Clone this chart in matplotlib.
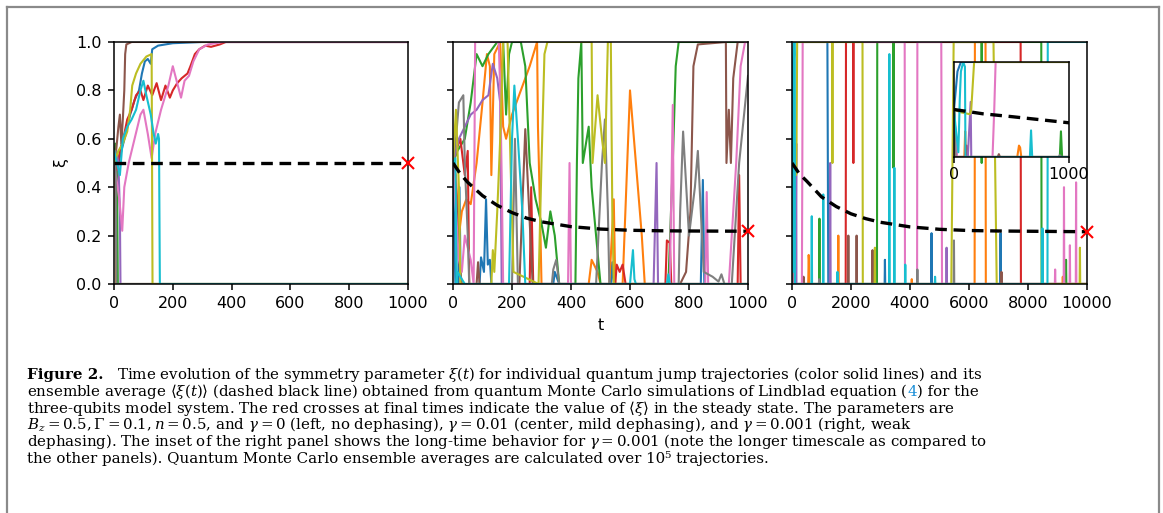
import matplotlib
matplotlib.use("Agg")
import matplotlib.pyplot as plt
from matplotlib.lines import Line2D

plt.rcParams['font.family'] = ['DejaVu Sans']
plt.rcParams['mathtext.fontset'] = 'dejavuserif'

W, H = 1163, 513
DPI = 100

# ---------------- data ----------------
colors = ['#1f77b4', '#ff7f0e', '#2ca02c', '#d62728', '#9467bd',
          '#8c564b', '#e377c2', '#7f7f7f', '#bcbd22', '#17becf']

# left panel (gamma = 0)
L_blue = [(0,0.5),(8,0.45),(15,0.5),(25,0.55),(40,0.62),(55,0.7),(70,0.76),(85,0.8),(95,0.87),(105,0.92),(115,0.93),(125,0.91),(130,0.97),(150,0.985),(200,0.995),(300,1.0),(1000,1.0)]
L_orange = [(0,0.5),(4,0.52),(7,0),(1000,0)]
L_green = [(0,0.5),(5,0.58),(10,0.5),(13,0),(1000,0)]
L_red = [(0,0.5),(10,0.47),(20,0.55),(35,0.62),(45,0.68),(60,0.72),(75,0.78),(90,0.8),(100,0.76),(115,0.82),(130,0.78),(145,0.83),(160,0.76),(175,0.82),(190,0.77),(200,0.8),(215,0.83),(230,0.85),(250,0.87),(260,0.9),(275,0.95),(290,0.97),(310,0.985),(330,0.98),(360,0.99),(380,1.0),(1000,1.0)]
L_purple = [(0,0.5),(8,0.55),(15,0.5),(20,0.3),(22,0),(1000,0)]
L_brown = [(0,0.5),(8,0.56),(15,0.65),(20,0.7),(25,0.58),(30,0.68),(35,0.8),(38,0.95),(42,0.99),(60,1.0),(1000,1.0)]
L_pink = [(0,0.5),(10,0.42),(18,0.35),(28,0.22),(35,0.4),(50,0.5),(70,0.6),(90,0.7),(100,0.72),(115,0.62),(128,0.52),(140,0.62),(160,0.72),(185,0.82),(200,0.9),(215,0.83),(228,0.77),(240,0.84),(255,0.86),(270,0.92),(290,0.97),(320,0.99),(370,1.0),(1000,1.0)]
L_gray = [(0,0.5),(5,0.55),(8,0),(1000,0)]
L_olive = [(0,0.5),(15,0.55),(30,0.58),(45,0.63),(55,0.72),(62,0.82),(75,0.87),(90,0.91),(110,0.94),(128,0.95),(131,0.0),(1000,0)]
L_cyan = [(0,0.55),(10,0.5),(20,0.45),(30,0.6),(45,0.65),(60,0.68),(75,0.72),(90,0.8),(100,0.84),(110,0.78),(125,0.7),(135,0.62),(142,0.58),(150,0.62),(153,0.6),(156,0),(1000,0)]

# center panel (gamma = 0.01)
M_blue = [(0,0.5),(8,0.0),(18,0),(22,0.40),(26,0),(90,0),(95,0.11),(105,0.05),(112,0.35),(118,0.08),(125,0.1),(130,0),(340,0),(345,0.05),(360,0),(535,0),(540,0.09),(545,0),(840,0),(847,0.43),(852,0),(1000,0)]
M_orange = [(0,0.5),(10,0.45),(20,0.2),(30,0.3),(45,0.35),(60,0.33),(80,0.5),(100,0.75),(115,0.95),(125,0.9),(130,0.45),(140,0.95),(160,1.0),(170,0.65),(180,0.6),(200,0.7),(260,0.9),(285,1.0),(288,0.65),(295,0.3),(300,0),(460,0),(470,0.1),(490,0.05),(500,0),(530,0),(545,0.35),(550,0),(575,0),(600,0.8),(640,0.2),(650,0),(1000,0)]
M_green = [(0,0.5),(15,0.55),(40,0.6),(60,0.75),(80,0.95),(100,0.9),(120,0.95),(150,1.0),(170,1.0),(180,0.7),(190,0.95),(200,1.0),(230,1.0),(245,0.9),(260,0.5),(280,0.35),(300,0.25),(315,0.15),(330,0.3),(345,0.2),(360,0),(415,0),(420,0.5),(425,0.85),(435,1.0),(440,0.5),(460,0.65),(470,0.4),(500,0),(730,0),(745,0.5),(755,0.9),(765,1.0),(1000,1.0)]
M_red = [(0,0.5),(10,0.55),(25,0.6),(40,0.45),(50,0.55),(55,0),(260,0),(265,0.4),(272,0),(550,0),(555,0.08),(565,0.05),(575,0.08),(585,0),(720,0),(725,0.18),(735,0.17),(740,0),(965,0),(970,0.45),(975,0),(1000,0)]
M_purple = [(0,0.5),(20,0.6),(40,0.65),(60,0.7),(80,0.72),(100,0.76),(120,0.78),(135,0.91),(150,0.85),(160,0.75),(165,0),(680,0),(690,0.5),(695,0),(1000,0)]
M_brown = [(0,0.5),(10,0.4),(20,0.1),(30,0),(80,0),(85,0.09),(90,0),(225,0),(245,0.64),(270,0),(770,0),(790,0.05),(805,0.3),(815,0.9),(830,0.99),(925,1.0),(927,0.5),(935,0.72),(942,0.5),(950,0.85),(965,1.0),(1000,1.0)]
M_pink = [(0,0.5),(10,0.3),(20,0.1),(30,0.05),(40,0.2),(50,0.15),(60,0.1),(70,0.0),(75,1.0),(155,1.0),(160,0.8),(165,0.45),(170,0),(390,0),(395,0.5),(400,0),(735,0),(745,0.74),(750,0),(855,0),(860,0.38),(865,0),(935,0),(960,0.5),(975,0.9),(990,1.0),(1000,1.0)]
M_gray = [(0,0.5),(10,0.6),(20,0.75),(35,0.78),(40,0.5),(50,0.2),(55,0),(200,0),(210,0.6),(220,0),(335,0),(340,0.06),(350,0.1),(360,0),(485,0),(505,0.5),(515,0.68),(525,0.3),(530,0),(765,0),(770,0.3),(780,0.63),(800,0.2),(820,0.4),(830,0.55),(840,0.3),(850,0.05),(880,0.03),(900,0.01),(910,0.04),(920,0),(945,0),(970,0.5),(1000,0.86)]
M_olive = [(0,0.5),(10,0.72),(20,0.4),(25,0),(130,0),(135,0.14),(140,0.05),(150,0.3),(160,0.6),(170,1.0),(185,1.0),(195,0.5),(205,0.05),(290,0),(300,0.5),(310,0.95),(320,1.0),(470,1.0),(473,0.5),(490,0.78),(505,0.6),(515,0.5),(525,1.0),(535,1.0),(540,0.3),(545,0),(1000,0)]
M_cyan = [(0,0.5),(8,0.52),(12,0),(15,0.05),(20,0.04),(30,0.02),(40,0.0),(190,0),(200,0.6),(208,0.82),(220,0.6),(235,0.3),(245,0),(600,0),(610,0.14),(615,0.02),(620,0),(725,0),(730,0.04),(735,0),(1000,0)]

# right panel (gamma = 0.001)
R_blue = [(0,0.5),(30,0.9),(60,1.0),(1200,1.0),(1215,0.5),(1230,0),(3140,0),(3150,0.1),(3160,0),(4720,0),(4730,0.21),(4740,0),(7060,0),(7070,0.21),(7080,0),(10000,0)]
R_orange = [(0,0.5),(8,0.2),(12,0),(90,0),(97,0.27),(104,0),(550,0),(565,0.12),(575,0.1),(585,0),(1560,0),(1570,0.2),(1580,0),(4050,0),(4060,0.02),(4070,0),(6190,0),(6200,1.0),(6560,1.0),(6570,0),(9170,0),(9180,0.03),(9190,0),(10000,0)]
R_green = [(0,0.5),(10,0.3),(20,0),(920,0),(930,0.27),(940,0),(2880,0),(2890,1.0),(3430,1.0),(3440,0.48),(3450,1.0),(6420,1.0),(6430,0.5),(6440,1.0),(8450,1.0),(8460,0),(9280,0),(9290,0.1),(9300,0),(10000,0)]
R_red = [(0,0.5),(10,0.2),(15,0),(100,0),(110,0.12),(120,0),(1820,0),(1830,1.0),(2070,1.0),(2080,0.5),(2090,1.0),(7750,1.0),(7760,0),(10000,0)]
R_purple = [(0,0.5),(15,0.2),(25,0),(120,0),(145,0.58),(150,0),(1280,0),(1295,0.5),(1310,0),(5230,0),(5240,0.15),(5250,0),(10000,0)]
R_brown = [(0,0.5),(10,0.2),(15,0),(380,0),(390,0.03),(400,0),(1900,0),(1910,0.2),(1920,0),(2180,0),(2190,0.2),(2200,0),(2720,0),(2730,0.14),(2740,0),(7090,0),(7100,0.05),(7110,0),(10000,0)]
R_pink = [(0,0.5),(15,0.2),(25,0),(335,0),(350,0.5),(362,1.0),(3820,1.0),(3830,0),(4240,0),(4250,1.0),(5060,1.0),(5075,0.45),(5085,0),(8910,0),(8920,0.06),(8930,0),(9210,0),(9220,0.4),(9230,0),(9410,0),(9420,0.16),(9430,0),(9620,0),(9630,0.42),(9640,0),(10000,0)]
R_gray = [(0,0.5),(15,0),(910,0),(920,0.02),(930,0),(4240,0),(4250,0.06),(4260,0),(5480,0),(5490,0.18),(5500,0),(10000,0)]
R_olive = [(0,0.5),(60,0.47),(140,0.45),(150,0.5),(175,1.0),(1360,1.0),(1370,0.5),(1380,1.0),(2390,1.0),(2400,0),(2800,0),(2810,0.15),(2820,0),(5400,0),(5480,1.0),(6830,1.0),(6940,0),(9750,0),(9760,0.15),(9770,0),(10000,0)]
R_cyan = [(0,0.5),(15,0.3),(38,0.05),(50,0.6),(60,0.9),(80,1.0),(95,0.95),(100,0),(660,0),(670,0.28),(680,0),(1050,0),(1060,0.37),(1070,0),(1530,0),(1540,0.05),(1550,0),(3290,0),(3300,0.95),(3310,0),(3460,0),(3470,0.48),(3480,0),(3830,0),(3840,0.08),(3850,0),(4840,0),(4850,0.03),(4860,0),(8480,0),(8490,0.23),(8500,0),(8660,0),(8670,1.0),(10000,1.0)]

# ensemble averages
left_avg_t = [0, 1000]
left_avg_xi = [0.5, 0.5]
mid_avg_t = [0, 25, 50, 100, 150, 200, 250, 300, 400, 500, 600, 700, 800, 1000]
mid_avg_xi = [0.5, 0.455, 0.42, 0.365, 0.325, 0.295, 0.272, 0.257, 0.237, 0.227, 0.222, 0.22, 0.219, 0.218]
right_avg_t = [0, 250, 500, 1000, 1500, 2000, 2500, 3000, 4000, 5000, 6000, 7000, 8000, 10000]
right_avg_xi = [0.5, 0.455, 0.425, 0.36, 0.32, 0.29, 0.27, 0.255, 0.236, 0.226, 0.221, 0.219, 0.218, 0.216]

steady_t = [1000, 1000, 10000]
steady_xi = [0.5, 0.218, 0.216]

left_traj = [L_blue, L_orange, L_green, L_red, L_purple, L_brown, L_pink, L_gray, L_olive, L_cyan]
mid_traj = [M_blue, M_orange, M_green, M_red, M_purple, M_brown, M_pink, M_gray, M_olive, M_cyan]
right_traj = [R_blue, R_orange, R_green, R_red, R_purple, R_brown, R_pink, R_gray, R_olive, R_cyan]

# ---------------- figure ----------------
fig = plt.figure(figsize=(W / DPI, H / DPI), dpi=DPI)
TICK_FS = 11.5


def box(x0, y0, x1, y1):
    return [x0 / W, 1 - y1 / H, (x1 - x0) / W, (y1 - y0) / H]


def style(ax, fs=TICK_FS):
    for s in ax.spines.values():
        s.set_linewidth(1.1)
    ax.tick_params(direction='out', length=4.3, width=1.1, labelsize=fs, pad=4.5)


def draw(ax, trajs, avg_t, avg_xi, xmax, k):
    for c, tr in zip(colors, trajs):
        ax.plot([p[0] for p in tr], [p[1] for p in tr], color=c, lw=1.5)
    ax.plot(avg_t, avg_xi, color='black', lw=2.4, ls='--', dashes=(3.5, 2.0))
    ax.plot([steady_t[k]], [steady_xi[k]], marker='x', color='red', ms=8,
            mew=1.5, clip_on=False, zorder=10)
    ax.set_xlim(0, xmax)
    ax.set_ylim(0, 1)


axL = fig.add_axes(box(114, 42, 408, 284))
axM = fig.add_axes(box(453, 42, 748, 284))
axR = fig.add_axes(box(792, 42, 1087, 284))

draw(axL, left_traj, left_avg_t, left_avg_xi, 1000, 0)
draw(axM, mid_traj, mid_avg_t, mid_avg_xi, 1000, 1)
draw(axR, right_traj, right_avg_t, right_avg_xi, 10000, 2)

for ax in (axL, axM, axR):
    style(ax)
    ax.set_yticks([0, 0.2, 0.4, 0.6, 0.8, 1.0])
axL.set_xticks([0, 200, 400, 600, 800, 1000])
axM.set_xticks([0, 200, 400, 600, 800, 1000])
axR.set_xticks([0, 2000, 4000, 6000, 8000, 10000])
axL.set_yticklabels(['0.0', '0.2', '0.4', '0.6', '0.8', '1.0'])
axM.set_yticklabels([])
axR.set_yticklabels([])
axL.set_ylabel('ξ', fontsize=TICK_FS, labelpad=6)
axM.set_xlabel('t', fontsize=TICK_FS, labelpad=5)

# inset
axI = fig.add_axes(box(954, 62, 1069, 157))
for c, tr in zip(colors, right_traj):
    axI.plot([p[0] for p in tr], [p[1] for p in tr], color=c, lw=1.5)
axI.plot(right_avg_t, right_avg_xi, color='black', lw=2.4, ls='--', dashes=(3.5, 2.0))
axI.set_xlim(0, 1000)
axI.set_ylim(0, 1)
axI.set_yticks([])
axI.set_xticks([0, 1000])
style(axI)
axI.tick_params(pad=3)
axI.set_facecolor('white')

# frame
fc = '#8a8a8a'
fig.add_artist(Line2D([7 / W, 7 / W], [0, 1 - 7 / H], color=fc, lw=1.6))
fig.add_artist(Line2D([7 / W, 1159 / W], [1 - 7 / H, 1 - 7 / H], color=fc, lw=1.6))
fig.add_artist(Line2D([1159 / W, 1159 / W], [0, 1 - 7 / H], color=fc, lw=1.6))

# caption
cap_fs = 10.8
serif = ['DejaVu Serif']
renderer = fig.canvas.get_renderer()
x0 = 27
baselines = [379, 395.8, 412.6, 429.4, 446.2, 463]


def put(x, ybase, s, **kw):
    t = fig.text(x / W, 1 - ybase / H, s, fontsize=cap_fs, family=serif,
                 va='baseline', ha='left', **kw)
    bb = t.get_window_extent(renderer)
    return bb.x1


xe = put(x0, baselines[0], 'Figure 2.', weight='bold')
put(xe + 14, baselines[0],
    r'Time evolution of the symmetry parameter $\xi(t)$ for individual quantum jump trajectories (color solid lines) and its')
xe = put(x0, baselines[1],
         r'ensemble average $\langle\xi(t)\rangle$ (dashed black line) obtained from quantum Monte Carlo simulations of Lindblad equation (')
xe = put(xe, baselines[1], '4', color='#1a8fd8')
put(xe, baselines[1], ') for the')
put(x0, baselines[2],
    r'three-qubits model system. The red crosses at final times indicate the value of $\langle\xi\rangle$ in the steady state. The parameters are')
put(x0, baselines[3],
    r'$B_z = 0.5, \Gamma = 0.1, n = 0.5$, and $\gamma = 0$ (left, no dephasing), $\gamma = 0.01$ (center, mild dephasing), and $\gamma = 0.001$ (right, weak')
put(x0, baselines[4],
    r'dephasing). The inset of the right panel shows the long-time behavior for $\gamma = 0.001$ (note the longer timescale as compared to')
put(x0, baselines[5],
    'the other panels). Quantum Monte Carlo ensemble averages are calculated over 10\u2075 trajectories.')

fig.savefig('out.png', dpi=DPI)
